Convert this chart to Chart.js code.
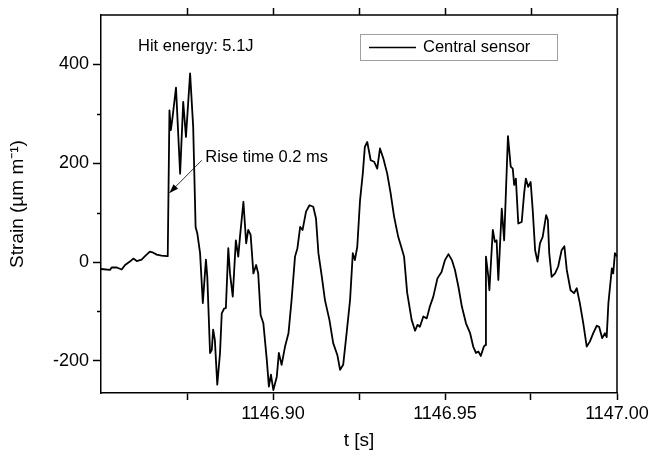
<!DOCTYPE html>
<html>
<head>
<meta charset="utf-8">
<script src="https://cdn.jsdelivr.net/npm/chart.js@4.4.1/dist/chart.umd.min.js"></script>
<style>
  html, body { margin: 0; padding: 0; background: #fff; }
</style>
</head>
<body>
<canvas id="chart1" width="649" height="460"></canvas>
<script>
// time [s] and strain [um/m]
var times = [
    1146.8500, 1146.8526, 1146.8531, 1146.8546, 1146.8560, 1146.8570, 1146.8584, 1146.8594,
    1146.8604, 1146.8618, 1146.8628, 1146.8642, 1146.8652, 1146.8662, 1146.8676, 1146.8691,
    1146.8694, 1146.8699, 1146.8703, 1146.8708, 1146.8718, 1146.8730, 1146.8739, 1146.8747,
    1146.8759, 1146.8768, 1146.8775, 1146.8780, 1146.8788, 1146.8796, 1146.8805, 1146.8809,
    1146.8817, 1146.8822, 1146.8826, 1146.8831, 1146.8838, 1146.8846, 1146.8851, 1146.8858,
    1146.8863, 1146.8870, 1146.8875, 1146.8883, 1146.8892, 1146.8899, 1146.8904, 1146.8914,
    1146.8922, 1146.8928, 1146.8935, 1146.8943, 1146.8951, 1146.8957, 1146.8964, 1146.8972,
    1146.8982, 1146.8988, 1146.8994, 1146.9001, 1146.9011, 1146.9017, 1146.9025, 1146.9035,
    1146.9045, 1146.9054, 1146.9064, 1146.9071, 1146.9079, 1146.9086, 1146.9096, 1146.9106,
    1146.9117, 1146.9125, 1146.9132, 1146.9142, 1146.9151, 1146.9164, 1146.9175, 1146.9187,
    1146.9195, 1146.9204, 1146.9214, 1146.9224, 1146.9232, 1146.9238, 1146.9245, 1146.9253,
    1146.9261, 1146.9267, 1146.9274, 1146.9284, 1146.9294, 1146.9303, 1146.9311, 1146.9321,
    1146.9332, 1146.9342, 1146.9352, 1146.9364, 1146.9374, 1146.9381, 1146.9390, 1146.9403,
    1146.9413, 1146.9420, 1146.9427, 1146.9437, 1146.9447, 1146.9456, 1146.9466, 1146.9478,
    1146.9490, 1146.9500, 1146.9510, 1146.9520, 1146.9529, 1146.9539, 1146.9549, 1146.9561,
    1146.9573, 1146.9582, 1146.9590, 1146.9597, 1146.9604, 1146.9613, 1146.9617, 1146.9619,
    1146.9626, 1146.9629, 1146.9639, 1146.9645, 1146.9650, 1146.9655, 1146.9665, 1146.9672,
    1146.9683, 1146.9691, 1146.9697, 1146.9701, 1146.9706, 1146.9713, 1146.9723, 1146.9730,
    1146.9735, 1146.9742, 1146.9749, 1146.9755, 1146.9762, 1146.9769, 1146.9776, 1146.9784,
    1146.9794, 1146.9799, 1146.9803, 1146.9810, 1146.9820, 1146.9829, 1146.9839, 1146.9847,
    1146.9854, 1146.9865, 1146.9875, 1146.9883, 1146.9892, 1146.9902, 1146.9912, 1146.9921,
    1146.9931, 1146.9941, 1146.9948, 1146.9957, 1146.9965, 1146.9970, 1146.9975, 1146.9985,
    1146.9989, 1146.9994, 1147.0000
];
var strain = [
    -14, -16, -11, -11, -15, -6, 1, 7,
    2, 5, 12, 21, 19, 15, 13, 12,
    12, 307, 267, 293, 353, 179, 324, 253,
    382, 273, 71, 58, 18, -83, 5, -30,
    -184, -178, -137, -158, -248, -184, -104, -94,
    -93, 28, -23, -70, 44, 11, 51, 122,
    38, 65, 55, -23, -6, -23, -107, -124,
    -198, -252, -228, -259, -232, -184, -208, -171,
    -144, -77, 11, 28, 71, 65, 102, 115,
    112, 88, 18, -30, -77, -117, -164, -188,
    -218, -208, -144, -77, 18, 4, 31, 125,
    179, 233, 243, 206, 203, 189, 230, 209,
    179, 139, 92, 51, 28, 11, -62, -117,
    -139, -127, -131, -110, -114, -90, -70, -33,
    -20, 4, 16, 4, -16, -50, -90, -124,
    -144, -171, -184, -181, -190, -171, -168, 11,
    -30, -57, 65, 41, 44, -36, 108, 44,
    255, 193, 189, 156, 169, 78, 81, 139,
    169, 152, 162, 105, 24, 1, 38, 51,
    95, 85, 18, -30, -23, -9, 24, 32,
    -16, -57, -63, -53, -83, -124, -171, -161,
    -144, -129, -131, -154, -144, -152, -83, -13,
    -23, 18, 11
];
var xTicks = [1146.875, 1146.90, 1146.925, 1146.95, 1146.975, 1147.00];
var xLabels = [1146.90, 1146.95, 1147.00];
var yLabels = [-200, 0, 200, 400];
var yMinor = [-100, 100, 300];
var seriesName = 'Central sensor';
var hitNote = 'Hit energy: 5.1J';
var riseNote = 'Rise time 0.2 ms';

var FONT = '"Liberation Sans", Arial, sans-serif';

var points = times.map(function (t, i) { return { x: t, y: strain[i] }; });

function isLabel(list, v) {
    return list.some(function (l) { return Math.abs(l - v) < 1e-6; });
}

var extras = {
    id: 'extras',
    afterDraw: function (chart) {
        var ctx = chart.ctx;
        var a = chart.chartArea;
        var xs = chart.scales.x, ys = chart.scales.y;
        ctx.save();
        ctx.strokeStyle = '#000';
        ctx.lineWidth = 1.5;
        // top and right frame
        ctx.beginPath();
        ctx.moveTo(a.left, a.top);
        ctx.lineTo(a.right, a.top);
        ctx.lineTo(a.right, a.bottom);
        ctx.stroke();
        // ticks on top axis
        xTicks.forEach(function (v) {
            var px = Math.round(xs.getPixelForValue(v)) + 0.5;
            ctx.beginPath();
            ctx.moveTo(px, a.top);
            ctx.lineTo(px, a.top - 7);
            ctx.stroke();
        });
        // minor ticks on left axis
        yMinor.forEach(function (v) {
            var py = Math.round(ys.getPixelForValue(v)) + 0.5;
            ctx.beginPath();
            ctx.moveTo(a.left, py);
            ctx.lineTo(a.left - 4, py);
            ctx.stroke();
        });

        // legend box
        ctx.lineWidth = 1;
        ctx.strokeStyle = '#a0a0a0';
        ctx.strokeRect(360.5, 34.5, 197, 26);
        ctx.strokeStyle = '#000';
        ctx.lineWidth = 1.6;
        ctx.beginPath();
        ctx.moveTo(369, 47.5);
        ctx.lineTo(416, 47.5);
        ctx.stroke();
        ctx.fillStyle = '#000';
        ctx.font = '16.5px ' + FONT;
        ctx.textBaseline = 'middle';
        ctx.textAlign = 'left';
        ctx.fillText(chart.data.datasets[0].label, 423, 47);

        // notes
        ctx.fillText(hitNote, 138, 46);
        var tx = xs.getPixelForValue(1146.8803), ty = ys.getPixelForValue(212);
        ctx.fillText(riseNote, tx, ty);

        // arrow to the rise
        var x0 = xs.getPixelForValue(1146.8793), y0 = ys.getPixelForValue(206);
        var x1 = xs.getPixelForValue(1146.8699), y1 = ys.getPixelForValue(140);
        ctx.lineWidth = 0.8;
        ctx.beginPath();
        ctx.moveTo(x0, y0);
        ctx.lineTo(x1, y1);
        ctx.stroke();
        var ang = Math.atan2(y1 - y0, x1 - x0);
        var len = 9, half = 3.2;
        ctx.beginPath();
        ctx.moveTo(x1, y1);
        ctx.lineTo(x1 - len * Math.cos(ang) + half * Math.sin(ang), y1 - len * Math.sin(ang) - half * Math.cos(ang));
        ctx.lineTo(x1 - len * Math.cos(ang) - half * Math.sin(ang), y1 - len * Math.sin(ang) + half * Math.cos(ang));
        ctx.closePath();
        ctx.fill();
        ctx.restore();
    }
};

var chart1 = new Chart(document.getElementById('chart1').getContext('2d'), {
    type: 'line',
    data: {
        datasets: [{
            label: seriesName,
            data: points,
            borderColor: '#000',
            borderWidth: 1.8,
            pointRadius: 0,
            tension: 0,
            fill: false,
            borderJoinStyle: 'round'
        }]
    },
    options: {
        responsive: false,
        animation: false,
        events: [],
        layout: { padding: { left: 0, top: 15, right: 32, bottom: 0 } },
        plugins: {
            legend: { display: false },
            tooltip: { enabled: false }
        },
        scales: {
            x: {
                type: 'linear',
                min: 1146.85,
                max: 1147.00,
                afterFit: function (s) {
                    s.height = 67;
                    s.paddingLeft = 0;
                    s.paddingRight = 0;
                },
                afterBuildTicks: function (s) {
                    s.ticks = xTicks.map(function (v) { return { value: v }; });
                },
                border: { display: true, color: '#000', width: 1.5 },
                grid: {
                    drawOnChartArea: false,
                    drawTicks: true,
                    tickLength: 7,
                    tickWidth: 1.5,
                    tickColor: '#000'
                },
                ticks: {
                    maxRotation: 0,
                    autoSkip: false,
                    padding: 3,
                    color: '#000',
                    font: { family: FONT, size: 18 },
                    callback: function (v) {
                        return isLabel(xLabels, v) ? v.toFixed(2) : '';
                    }
                },
                title: {
                    display: true,
                    text: 't [s]',
                    color: '#000',
                    font: { family: FONT, size: 19 },
                    padding: { top: 0, bottom: 8 }
                }
            },
            y: {
                min: -265,
                max: 500,
                afterFit: function (s) { s.width = 101; },
                afterBuildTicks: function (s) {
                    s.ticks = yLabels.map(function (v) { return { value: v }; });
                },
                border: { display: true, color: '#000', width: 1.5 },
                grid: {
                    drawOnChartArea: false,
                    drawTicks: true,
                    tickLength: 8,
                    tickWidth: 1.5,
                    tickColor: '#000'
                },
                ticks: {
                    padding: 4,
                    color: '#000',
                    font: { family: FONT, size: 18 },
                    callback: function (v) { return String(v); }
                },
                title: {
                    display: true,
                    text: 'Strain (\u00b5m m\u207b\u00b9)',
                    color: '#000',
                    font: { family: FONT, size: 19 },
                    padding: { top: 6, bottom: 0 }
                }
            }
        }
    },
    plugins: [extras]
});
</script>
</body>
</html>
